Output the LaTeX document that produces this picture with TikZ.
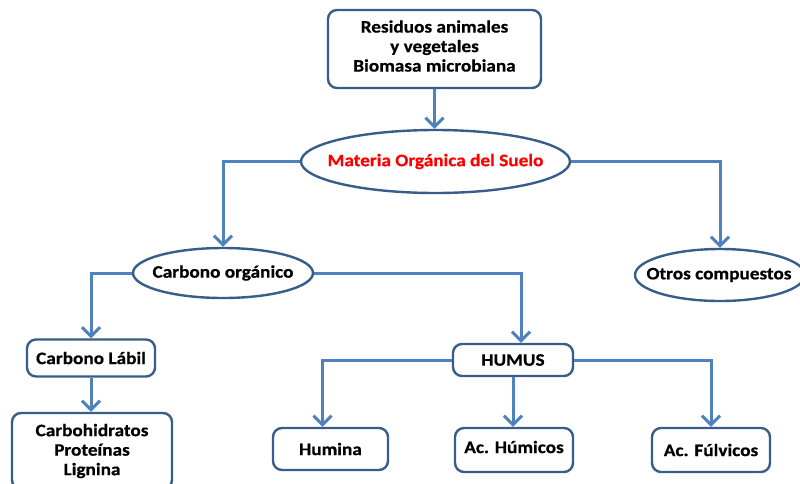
\documentclass[tikz,border=0pt]{standalone}
\usepackage{fontspec}
\setmainfont{Carlito}[FakeStretch=1.1, BoldFont={Carlito Bold}, BoldFeatures={FakeStretch=1.1, FakeBold=0.6}]
\usetikzlibrary{shapes.geometric,arrows.meta}
\definecolor{linkblue}{RGB}{79,129,189}
\definecolor{edgeblue}{RGB}{56,93,138}
\begin{document}
\begin{tikzpicture}[x=1pt,y=-1pt,
  every node/.style={font=\fontsize{17.5}{19.5}\selectfont\bfseries, align=center, inner sep=0pt},
  every label/.style={font=\fontsize{17.5}{19.5}\selectfont\bfseries, inner sep=0pt},
  box/.style={draw=edgeblue, line width=2.4pt, rounded corners=9pt, fill=white},
  oval/.style={draw=edgeblue, line width=2.4pt, ellipse, fill=white},
  link/.style={draw=linkblue, line width=3pt, -{Straight Barb[length=9pt,width=18pt]}}
]
\fill[white] (0,0) rectangle (800,483);
\useasboundingbox (0,0) rectangle (800,483);

% nodes (ovals carry their text as a centred label so the outline keeps its size)
\node[box, minimum width=213pt, minimum height=78pt, label={[name=srctxt, yshift=3pt, align=center]center:Residuos animales\\y vegetales\\Biomasa microbiana}] (src) at (434.5,49) {};
\node[oval, minimum width=269pt, minimum height=63pt, label={[name=mostxt, text=red]center:Materia Orgánica del Suelo}] (mos) at (435.5,161.5) {};
\node[oval, minimum width=180pt, minimum height=50pt, label={[name=cotxt]center:Carbono orgánico}] (co) at (223,273) {};
\node[oval, minimum width=170pt, minimum height=52pt, label={[name=otrostxt, xshift=-1pt]center:Otros compuestos}] (otros) at (720,275) {};
\node[box, minimum width=128pt, minimum height=37pt] (lab) at (91,358) {Carbono Lábil};
\node[box, minimum width=160pt, minimum height=76pt] (carb) at (92,451) {Carbohidratos\\Proteínas\\Lignina};
\node[box, minimum width=120pt, minimum height=32pt] (humus) at (513,360) {HUMUS};
\node[box, minimum width=115pt, minimum height=42pt] (humina) at (330.5,449) {Humina};
\node[box, minimum width=118pt, minimum height=44pt, label={[name=humicostxt, yshift=3pt]center:Ac. Húmicos}] (humicos) at (514,450) {};
\node[box, minimum width=118pt, minimum height=44pt] (fulvicos) at (711,450) {Ac. Fúlvicos};

% connectors
\draw[link] (src.south) -- (src.south |- mos.north);
\draw[link] (mos.west) -| (co.north);
\draw[link] (mos.east) -| (otros.north);
\draw[link] (co.west) -| (lab.north);
\draw[link] (co.east) -| ([xshift=8pt]humus.north);
\draw[link] (lab.south) -- (lab.south |- carb.north);
\draw[link] (humus.west) -| ([xshift=-8pt]humina.north);
\draw[link] (humus.south) -- (humus.south |- humicos.north);
\draw[link] (humus.east) -| (fulvicos.north);
\end{tikzpicture}
\end{document}
